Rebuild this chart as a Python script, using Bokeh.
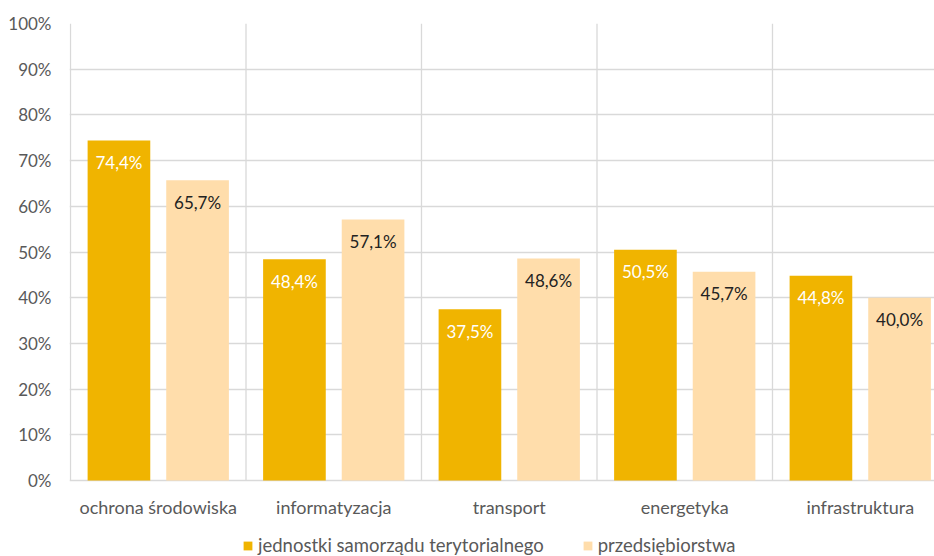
from bokeh.plotting import figure
from bokeh.models import (Range1d, FixedTicker, Legend, LegendItem, ColumnDataSource)
from bokeh.core.properties import value
from bokeh.embed import file_html
from bokeh.resources import INLINE

categories = ["ochrona środowiska", "informatyzacja", "transport", "energetyka", "infrastruktura"]
jst = [74.4, 48.4, 37.5, 50.5, 44.8]
przedsiebiorstwa = [65.7, 57.1, 48.6, 45.7, 40.0]
series_names = ["jednostki samorządu terytorialnego", "przedsiębiorstwa"]
y_ticks = [0, 10, 20, 30, 40, 50, 60, 70, 80, 90, 100]

FONT = "Lato"
DARK = "#F0B400"
LIGHT = "#FFDDAB"
GRAY = "#595959"
GRID = "#D9D9D9"

W, H = 934, 556
LEFT, TOP = 69, 23
cat_px = 175.5          # pixels per category
px_per_pct = 4.57       # pixels per percent
zero_px = TOP + 100 * px_per_pct   # figure y of the 0% line
frame_w = W - LEFT
x0 = -1.0 / cat_px
x_end = x0 + frame_w / cat_px
y_start = -(H - zero_px) / px_per_pct

p = figure(width=W, height=H, output_backend="svg", toolbar_location=None,
           x_range=Range1d(x0, x_end), y_range=Range1d(y_start, 100),
           x_axis_location=None,
           min_border_left=LEFT, min_border_top=TOP, min_border_bottom=0,
           min_border_right=0)
p.outline_line_color = None
p.background_fill_color = "white"
p.border_fill_color = "white"
p.xgrid.visible = False

idx = list(range(len(categories)))
off = 0.224
bw = 0.357
src = ColumnDataSource(dict(
    xc=[i + 0.5 for i in idx],
    x1=[i + 0.5 - off for i in idx],
    x2=[i + 0.5 + off for i in idx],
    base=[0] * len(categories),
    cat=categories,
    jst=jst, prz=przedsiebiorstwa,
    jst_lbl=[f"{v:.1f}%".replace(".", ",") for v in jst],
    prz_lbl=[f"{v:.1f}%".replace(".", ",") for v in przedsiebiorstwa],
))

# vertical category separators (grid)
bounds = list(range(len(categories) + 1))
p.segment(x0=bounds, y0=[0] * len(bounds), x1=bounds, y1=[100] * len(bounds),
          line_color=GRID, line_width=1.3, level="underlay")

# horizontal grid
p.ygrid.ticker = FixedTicker(ticks=y_ticks)
p.ygrid.grid_line_color = GRID
p.ygrid.grid_line_width = 1.3

r1 = p.vbar(x="x1", top="jst", width=bw, source=src, fill_color=DARK, line_color=None)
r2 = p.vbar(x="x2", top="prz", width=bw, source=src, fill_color=LIGHT, line_color=None)

p.text(x="x1", y="jst", text="jst_lbl", source=src, text_align="center",
       text_baseline="middle", y_offset=22, text_color="white",
       text_font=value(FONT), text_font_size="17px")
p.text(x="x2", y="prz", text="prz_lbl", source=src, text_align="center",
       text_baseline="middle", y_offset=22, text_color="#222222",
       text_font=value(FONT), text_font_size="17px")

# category labels
p.text(x="xc", y="base", text="cat", source=src, text_align="center",
       text_baseline="middle", y_offset=26, text_color=GRAY,
       text_font=value(FONT), text_font_size="18px")

# y axis
p.yaxis.ticker = FixedTicker(ticks=y_ticks)
p.yaxis.major_label_overrides = {t: f"{t}%" for t in y_ticks}
p.yaxis.axis_line_color = None
p.yaxis.major_tick_line_color = None
p.yaxis.minor_tick_line_color = None
p.yaxis.major_tick_out = 0
p.yaxis.major_tick_in = 0
p.yaxis.minor_tick_out = 0
p.yaxis.major_label_standoff = 18
p.yaxis.major_label_text_font = FONT
p.yaxis.major_label_text_font_size = "17px"
p.yaxis.major_label_text_color = GRAY

legend = Legend(items=[LegendItem(label=series_names[0], renderers=[r1]),
                       LegendItem(label=series_names[1], renderers=[r2])],
                orientation="horizontal", location=(173, 0),
                label_text_font=FONT, label_text_font_size="18.5px",
                label_text_color=GRAY, glyph_width=11, glyph_height=11,
                label_standoff=5, spacing=38, padding=0, margin=0,
                border_line_color=None, background_fill_alpha=0)
p.add_layout(legend)

open("out.html", "w").write(file_html(p, INLINE))
